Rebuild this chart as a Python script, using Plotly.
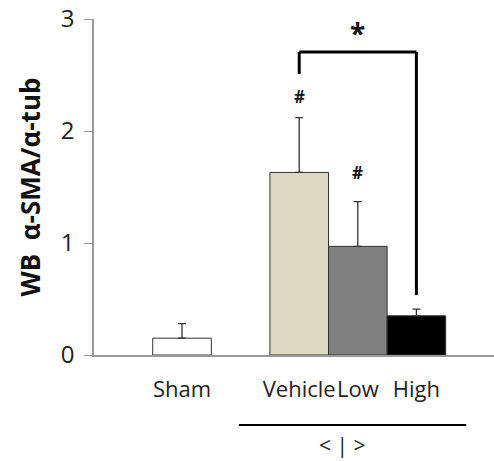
import plotly.graph_objects as go

# Group data
categories = ["Sham", "Vehicle", "Low", "High"]
positions = [0, 2, 3, 4]
means = [0.15, 1.63, 0.97, 0.35]
sem = [0.13, 0.49, 0.40, 0.06]
colors = ["#FFFFFF", "#DDD8C2", "#808080", "#000000"]
y_ticks = [0, 1, 2, 3]

FONT = "Open Sans"

fig = go.Figure()
fig.add_trace(go.Bar(
    x=positions, y=means, width=1.0,
    marker=dict(color=colors, line=dict(color="#333333", width=1)),
    error_y=dict(type="data", array=sem, arrayminus=[0] * len(sem),
                 symmetric=False, color="#333333", thickness=1.3, width=4),
    showlegend=False,
))

# Significance markers
fig.add_annotation(x=2, y=means[1] + sem[1], yshift=21, text="<b>#</b>", showarrow=False,
                   font=dict(family=FONT, size=17, color="#111"))
fig.add_annotation(x=3, y=means[2] + sem[2], yshift=29, text="<b>#</b>", showarrow=False,
                   font=dict(family=FONT, size=17, color="#111"))

# Bracket between Vehicle and High
br_top, br_left, br_right = 2.705, 2.51, 0.535
for x0, y0, x1, y1 in [(2, br_left, 2, br_top), (2, br_top, 4, br_top), (4, br_top, 4, br_right)]:
    fig.add_shape(type="line", x0=x0, y0=y0, x1=x1, y1=y1, xref="x", yref="y",
                  line=dict(color="#000", width=3))
fig.add_annotation(x=3, y=br_top, yshift=19, text="<b>*</b>", showarrow=False,
                   font=dict(family=FONT, size=28, color="#111"))

# Group underline and label
fig.add_shape(type="line", x0=0.97, x1=4.85, y0=-0.208, y1=-0.208,
              xref="x", yref="paper", line=dict(color="#000", width=2))
fig.add_annotation(x=2.73, y=-0.313, xref="x", yref="paper", text="< | >",
                   yanchor="bottom", borderpad=0, showarrow=False,
                   font=dict(family=FONT, size=21, color="#222"))

fig.update_layout(
    width=494, height=461,
    margin=dict(l=94, r=0, t=19, b=106),
    paper_bgcolor="white", plot_bgcolor="white",
    font=dict(family=FONT, color="#222"),
    xaxis=dict(range=[-1.502, 5.324], tickvals=positions, ticktext=categories,
               tickangle=0,
               showline=True, linecolor="#999", linewidth=1.5, ticks="",
               showgrid=False, zeroline=False, tickfont=dict(size=22, color="#222"),
               ticklabelstandoff=14),
    yaxis=dict(range=[0, 3], tickvals=y_ticks, showline=True, linecolor="#999",
               linewidth=1.5, ticks="outside", ticklen=8, tickcolor="#999",
               showgrid=False, zeroline=False, tickfont=dict(size=24, color="#222"),
               ticklabelstandoff=5,
               title=dict(text="<b>WB\u00a0\u00a0α-SMA/α-tub</b>", standoff=13,
                          font=dict(family=FONT, size=26, color="#111"))),
)

fig.write_html("out.html")
